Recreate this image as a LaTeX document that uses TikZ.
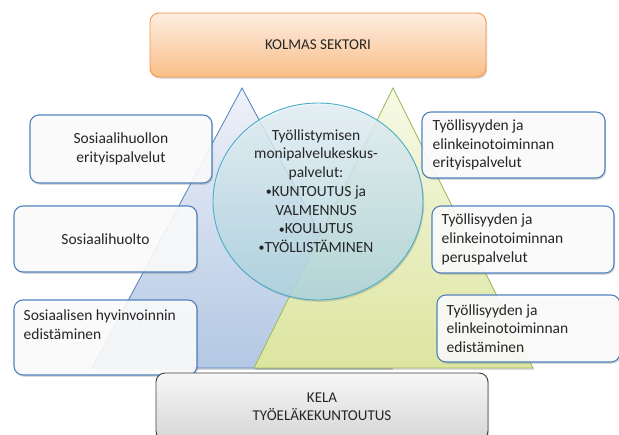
\documentclass[tikz,border=0pt]{standalone}
\usepackage{fontspec}
\setmainfont{Carlito}
\usetikzlibrary{shapes.geometric,shadows}

\definecolor{edgeblue}{HTML}{4F81BD}
\definecolor{edgegreen}{HTML}{9BBB59}
\definecolor{edgeorange}{HTML}{F79646}
\definecolor{edgecyan}{HTML}{4BACC6}
\definecolor{edgegray}{HTML}{404040}
\definecolor{triblueTop}{HTML}{EEF1F8}
\definecolor{triblueBot}{HTML}{B3C8E4}
\definecolor{trigreenTop}{HTML}{F7F9E6}
\definecolor{trigreenBot}{HTML}{DCE59F}
\definecolor{orangeTop}{HTML}{FDEEE2}
\definecolor{orangeBot}{HTML}{F9BE88}
\definecolor{grayTop}{HTML}{F7F7F7}
\definecolor{grayBot}{HTML}{D6D6D6}
\definecolor{hubTop}{HTML}{E8F5FA}
\definecolor{hubBot}{HTML}{AFD7E4}
\definecolor{ink}{HTML}{262626}

\newcommand{\dotitem}{{\fontsize{12}{12}\selectfont\raisebox{0.5pt}{•}}}

\begin{document}
\begin{tikzpicture}[x=1pt,y=-1pt,
  softshadow/.style={drop shadow={shadow xshift=1.2pt,shadow yshift=-1.8pt,opacity=0.25,fill=black!60}},
  sidebox/.style={draw=edgeblue,line width=1.1pt,rounded corners=9pt,fill=white,
    fill opacity=0.88,text opacity=1,inner sep=0pt,softshadow},
  bandbox/.style={rounded corners=9pt,line width=0.9pt,inner sep=0pt,softshadow,
    align=center,text=ink,font=\fontsize{15}{18}\selectfont},
  boxtext/.style={text=ink,inner sep=0pt,font=\fontsize{15.5}{18.8}\selectfont},
]
\useasboundingbox (0,0) rectangle (619,435);

% the two overlapping triangles
\coordinate (bApex) at (242,88);
\coordinate (bLeft) at (92,368);
\coordinate (bRight) at (392,368);
\coordinate (gApex) at (393,88);
\coordinate (gLeft) at (254,368);
\coordinate (gRight) at (533,368);
\path[draw=edgeblue,line width=0.8pt,top color=triblueTop,bottom color=triblueBot,softshadow]
  (bApex) -- (bRight) -- (bLeft) -- cycle;
\path[draw=edgegreen,line width=0.8pt,top color=trigreenTop,bottom color=trigreenBot,softshadow]
  (gApex) -- (gRight) -- (gLeft) -- cycle;

% central service hub
\node[ellipse,minimum width=210,minimum height=197,draw=edgecyan,line width=0.9pt,
  top color=hubTop,bottom color=hubBot,fill opacity=0.8,softshadow] (hub) at (318,201.5) {};
\node[boxtext,align=center,font=\fontsize{15.5}{18.7}\selectfont] (hubtext) at (316,191)
  {Työllistymisen\\monipalvelukeskus-\\palvelut:\\\dotitem KUNTOUTUS ja\\VALMENNUS\\\dotitem KOULUTUS\\\dotitem TYÖLLISTÄMINEN};

% left column
\node[sidebox,minimum width=182,minimum height=68] (s1) at (121,149) {};
\node[boxtext,align=center] (s1t) at (s1.center) {Sosiaalihuollon\\erityispalvelut};
\node[sidebox,minimum width=183,minimum height=66] (s2) at (105.5,239) {};
\node[boxtext] (s2t) at (s2.center) {Sosiaalihuolto};
\node[sidebox,minimum width=183,minimum height=75] (s3) at (105.5,337.5) {};
\node[boxtext,align=left,anchor=north west] (s3t) at ([xshift=10pt,yshift=-10pt]s3.north west)
  {Sosiaalisen hyvinvoinnin\\edistäminen};

% right column
\node[sidebox,minimum width=183,minimum height=66] (r1) at (513.5,145) {};
\node[boxtext,align=left,anchor=west] (r1t) at ([xshift=11pt]r1.west)
  {Työllisyyden ja\\elinkeinotoiminnan\\erityispalvelut};
\node[sidebox,minimum width=182,minimum height=67] (r2) at (523,239.5) {};
\node[boxtext,align=left,anchor=west] (r2t) at ([xshift=10pt]r2.west)
  {Työllisyyden ja\\elinkeinotoiminnan\\peruspalvelut};
\node[sidebox,minimum width=183,minimum height=67] (r3) at (528.5,328.5) {};
\node[boxtext,align=left,anchor=west] (r3t) at ([xshift=10pt]r3.west)
  {Työllisyyden ja\\elinkeinotoiminnan\\edistäminen};

% top and bottom bands
\node[bandbox,draw=edgeorange,top color=orangeTop,bottom color=orangeBot,
  minimum width=336,minimum height=64] (third) at (318,45) {KOLMAS SEKTORI};
\node[bandbox,draw=edgegray,top color=grayTop,bottom color=grayBot,
  minimum width=332,minimum height=67] (kela) at (322,406.5) {KELA\\TYÖELÄKEKUNTOUTUS};
\end{tikzpicture}
\end{document}
